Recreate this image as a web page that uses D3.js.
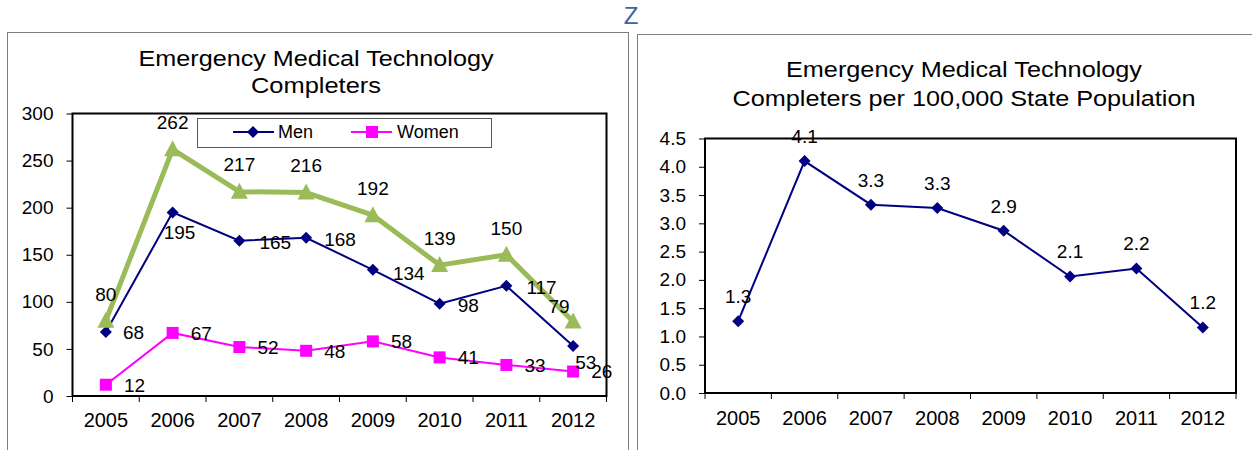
<!DOCTYPE html>
<html>
<head>
<meta charset="utf-8">
<script src="https://cdn.jsdelivr.net/npm/d3@7"></script>
<style>
  body { margin: 0; background: #fff; }
  text { font-family: "Liberation Sans", Arial, sans-serif; fill: #000; }
</style>
</head>
<body>
<svg id="chart" width="1252" height="450"></svg>
<script>
// chart data
const years = ["2005", "2006", "2007", "2008", "2009", "2010", "2011", "2012"];
const totalCompleters = [80, 262, 217, 216, 192, 139, 150, 79];
const menCompleters = [68, 195, 165, 168, 134, 98, 117, 53];
const womenCompleters = [12, 67, 52, 48, 58, 41, 33, 26];
const perHundredThousand = [1.27, 4.10, 3.33, 3.27, 2.87, 2.06, 2.20, 1.16];
const leftTicks = [0, 50, 100, 150, 200, 250, 300];
const rightTicks = [0, 0.5, 1, 1.5, 2, 2.5, 3, 3.5, 4, 4.5];
const legendNames = ["Men", "Women"];

// label nudges (where the original labels were moved by hand)
const menLabelDx = [17, -9, 20, 18, 20, 18, 20, 2];
const menLabelDy = [0, 20, 2, 1, 3, 1, 1, 16];
const totalLabelDx = [0, 0, 0, 0, 0, 0, 0, -14];
const totalLabelDy = [-27, -27, -27, -27, -27, -27, -27, -15];

const navy = "#000080", pink = "#ff00ff", green = "#9bbb59";

let svg = d3.select("#chart");

// panel borders
svg.append("rect").attr("x", 7.5).attr("y", 32.5).attr("width", 621).attr("height", 500)
    .attr("fill", "none").attr("stroke", "#7f7f7f");
svg.append("rect").attr("x", 637.5).attr("y", 34.5).attr("width", 700).attr("height", 500)
    .attr("fill", "none").attr("stroke", "#7f7f7f");

svg.append("text").attr("x", 631).attr("y", 24).attr("text-anchor", "middle")
    .style("font-size", "24px").style("fill", "#3e659b").text("Z");

function title(lines, cx, ys, lengths) {
    lines.forEach(function (t, i) {
        svg.append("text")
            .attr("x", cx).attr("y", ys[i])
            .attr("text-anchor", "middle")
            .attr("textLength", lengths[i])
            .attr("lengthAdjust", "spacingAndGlyphs")
            .style("font-size", "22px")
            .text(t);
    });
}

function diamond(g, x, y, r, color) {
    g.append("path")
        .attr("d", "M" + x + "," + (y - r) + "L" + (x + r) + "," + y + "L" + x + "," + (y + r) + "L" + (x - r) + "," + y + "Z")
        .attr("fill", color);
}

// x axis: labels under each band, small ticks on the band edges
function xAxis(g, xScale, y0, pad) {
    g.append("g")
        .attr("transform", "translate(0," + y0 + ")")
        .call(d3.axisBottom(xScale).tickSize(0).tickPadding(pad))
        .call(function (a) { a.select(".domain").remove(); })
        .selectAll("text").style("font-size", "20px").style("font-family", "Liberation Sans, Arial, sans-serif");

    let edges = years.map(function (d) { return xScale(d); });
    edges.push(xScale.range()[1]);
    g.selectAll(".xtick").data(edges).enter().append("line")
        .attr("x1", function (d) { return d; }).attr("x2", function (d) { return d; })
        .attr("y1", y0).attr("y2", y0 + 6)
        .attr("stroke", "#000").attr("stroke-width", 1);
}

function yAxis(g, yScale, x0, ticks, fmt) {
    g.append("g")
        .attr("transform", "translate(" + x0 + ",0)")
        .call(d3.axisLeft(yScale).tickValues(ticks).tickSize(6).tickPadding(13).tickFormat(fmt))
        .call(function (a) { a.select(".domain").remove(); })
        .selectAll("text").style("font-size", "19px").style("font-family", "Liberation Sans, Arial, sans-serif");
}

// ---------- left chart: completers ----------
title(["Emergency Medical Technology", "Completers"], 316, [66, 93], [355, 130]);

let xLeft = d3.scaleBand().domain(years).range([72.5, 606.5]);
let yLeft = d3.scaleLinear().domain([0, 300]).range([396, 113.5]);
let gl = svg.append("g");
let cxL = function (i) { return xLeft(years[i]) + xLeft.bandwidth() / 2; };

yAxis(gl, yLeft, 72.5, leftTicks, d3.format("d"));
xAxis(gl, xLeft, 396, 17);

gl.append("rect").attr("x", 72.5).attr("y", 113.5).attr("width", 534).attr("height", 282.5)
    .attr("fill", "none").attr("stroke", "#000").attr("stroke-width", 2);

let lineL = function (vals) {
    return d3.line().x(function (d, i) { return cxL(i); }).y(function (d) { return yLeft(d); })(vals);
};

// men
gl.append("path").attr("d", lineL(menCompleters)).attr("fill", "none").attr("stroke", navy).attr("stroke-width", 2);
menCompleters.forEach(function (d, i) { diamond(gl, cxL(i), yLeft(d), 6, navy); });

// women
gl.append("path").attr("d", lineL(womenCompleters)).attr("fill", "none").attr("stroke", pink).attr("stroke-width", 2);
gl.selectAll(".sq").data(womenCompleters).enter().append("rect")
    .attr("x", function (d, i) { return cxL(i) - 6; })
    .attr("y", function (d) { return yLeft(d) - 6; })
    .attr("width", 12).attr("height", 12).attr("fill", pink);

// total
gl.append("path").attr("d", lineL(totalCompleters)).attr("fill", "none").attr("stroke", green)
    .attr("stroke-width", 5).attr("stroke-linejoin", "round");
gl.selectAll(".tri").data(totalCompleters).enter().append("path")
    .attr("d", function (d, i) {
        let x = cxL(i), y = yLeft(d);
        return "M" + x + "," + (y - 9) + "L" + (x + 8.5) + "," + (y + 7) + "L" + (x - 8.5) + "," + (y + 7) + "Z";
    })
    .attr("fill", green);

// data labels
gl.selectAll(".lt").data(totalCompleters).enter().append("text")
    .attr("x", function (d, i) { return cxL(i) + totalLabelDx[i]; })
    .attr("y", function (d, i) { return yLeft(d) + totalLabelDy[i]; })
    .attr("dy", "0.36em").attr("text-anchor", "middle")
    .style("font-size", "19px").text(function (d) { return d; });

gl.selectAll(".lm").data(menCompleters).enter().append("text")
    .attr("x", function (d, i) { return cxL(i) + menLabelDx[i]; })
    .attr("y", function (d, i) { return yLeft(d) + menLabelDy[i]; })
    .attr("dy", "0.36em")
    .style("font-size", "19px").text(function (d) { return d; });

gl.selectAll(".lw").data(womenCompleters).enter().append("text")
    .attr("x", function (d, i) { return cxL(i) + 18; })
    .attr("y", function (d) { return yLeft(d); })
    .attr("dy", "0.36em")
    .style("font-size", "19px").text(function (d) { return d; });

// legend
let lg = gl.append("g");
lg.append("rect").attr("x", 197.5).attr("y", 118.5).attr("width", 294).attr("height", 29)
    .attr("fill", "#fff").attr("stroke", "#595959");
lg.append("line").attr("x1", 233).attr("x2", 274).attr("y1", 132).attr("y2", 132).attr("stroke", navy).attr("stroke-width", 2);
diamond(lg, 253, 132, 6, navy);
lg.append("line").attr("x1", 351).attr("x2", 392).attr("y1", 132).attr("y2", 132).attr("stroke", pink).attr("stroke-width", 2);
lg.append("rect").attr("x", 366).attr("y", 126).attr("width", 12).attr("height", 12).attr("fill", pink);
lg.selectAll(".ln").data(legendNames).enter().append("text")
    .attr("x", function (d, i) { return i === 0 ? 278 : 397; })
    .attr("y", 132).attr("dy", "0.36em")
    .style("font-size", "18px").text(function (d) { return d; });

// ---------- right chart: per 100,000 population ----------
title(["Emergency Medical Technology", "Completers per 100,000 State Population"], 964, [77, 106], [356, 463]);

let xRight = d3.scaleBand().domain(years).range([705, 1236]);
let yRight = d3.scaleLinear().domain([0, 4.5]).range([393, 138.5]);
let gr = svg.append("g");
let cxR = function (i) { return xRight(years[i]) + xRight.bandwidth() / 2; };

yAxis(gr, yRight, 705, rightTicks, d3.format(".1f"));
xAxis(gr, xRight, 393, 18);

gr.append("rect").attr("x", 705).attr("y", 138.5).attr("width", 531).attr("height", 254.5)
    .attr("fill", "none").attr("stroke", "#000").attr("stroke-width", 2);

gr.append("path")
    .attr("d", d3.line().x(function (d, i) { return cxR(i); }).y(function (d) { return yRight(d); })(perHundredThousand))
    .attr("fill", "none").attr("stroke", navy).attr("stroke-width", 2);
perHundredThousand.forEach(function (d, i) { diamond(gr, cxR(i), yRight(d), 6, navy); });

gr.selectAll(".lr").data(perHundredThousand).enter().append("text")
    .attr("x", function (d, i) { return cxR(i); })
    .attr("y", function (d) { return yRight(d) - 25; })
    .attr("dy", "0.36em").attr("text-anchor", "middle")
    .style("font-size", "19px").text(function (d) { return d3.format(".1f")(d); });
</script>
</body>
</html>
